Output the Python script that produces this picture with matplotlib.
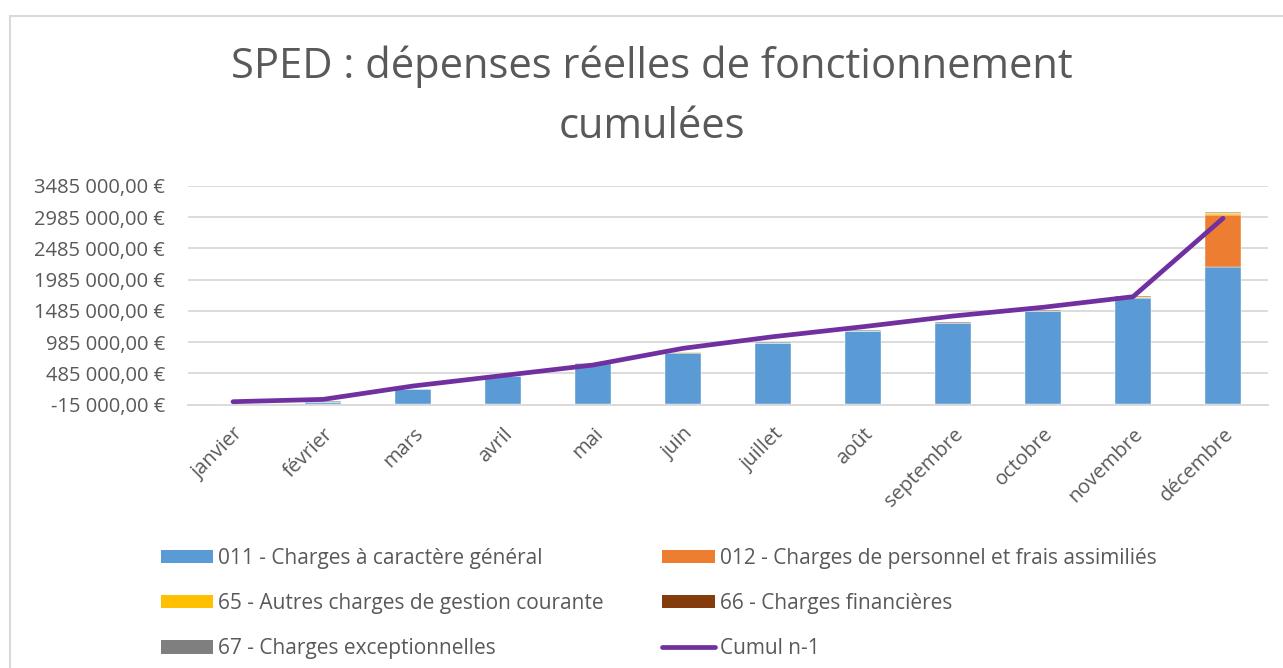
import numpy as np
import matplotlib
matplotlib.use("Agg")
import matplotlib.pyplot as plt
from matplotlib.patches import Patch, Rectangle
from matplotlib.lines import Line2D

plt.rcParams['font.family'] = ['Open Sans', 'DejaVu Sans']

# data
months = ["janvier", "février", "mars", "avril", "mai", "juin", "juillet",
          "août", "septembre", "octobre", "novembre", "décembre"]
c011 = [2000, 33000, 236000, 440000, 645000, 815000, 970000,
        1160000, 1290000, 1480000, 1700000, 2195000]
c012 = [0, 0, 0, 0, 0, 0, 0, 0, 0, 0, 0, 832000]
c65 = [0, 2000, 3000, 4000, 5000, 6000, 7000, 8000, 9000, 12000, 15000, 25000]
c66 = [0, 1000, 1000, 2000, 2000, 3000, 3000, 3000, 4000, 4000, 4000, 5000]
c67 = [-8000, 1000, 1000, 1000, 2000, 2000, 2000, 2000, 2000, 3000, 3000, 6000]
cumul_n1 = [33000, 70000, 284000, 452000, 620000, 887000, 1073000,
            1233000, 1404000, 1544000, 1713000, 2968000]
yticks = [-15000, 485000, 985000, 1485000, 1985000, 2485000, 2985000, 3485000]
ytick_labels = ["-15 000,00 €", "485 000,00 €", "985 000,00 €", "1485 000,00 €",
                "1985 000,00 €", "2485 000,00 €", "2985 000,00 €", "3485 000,00 €"]

series = [
    ("011 - Charges à caractère général", c011, "#5b9bd5"),
    ("012 - Charges de personnel et frais assimiliés", c012, "#ed7d31"),
    ("65 - Autres charges de gestion courante", c65, "#ffc000"),
    ("66 - Charges financières", c66, "#843c0c"),
    ("67 - Charges exceptionnelles", c67, "#7f7f7f"),
]

text_color = "#595959"
grid_color = "#d9d9d9"

fig = plt.figure(figsize=(12.83, 6.68), dpi=100)
ax = fig.add_axes([188 / 1283, 1 - 404.7 / 668, 1080 / 1283, (404.7 - 186) / 668])

x = np.arange(len(months))
pos_bottom = np.zeros(len(months))
neg_bottom = np.zeros(len(months))
handles = {}
for name, vals, color in series:
    vals = np.array(vals, dtype=float)
    bottom = np.where(vals >= 0, pos_bottom, neg_bottom)
    ax.bar(x, vals, width=0.4, bottom=bottom, color=color,
           edgecolor="white", linewidth=0.3, zorder=2)
    pos_bottom += np.where(vals >= 0, vals, 0)
    neg_bottom += np.where(vals < 0, vals, 0)
    handles[name] = Patch(facecolor=color, label=name)

ax.plot(x, cumul_n1, color="#7030a0", linewidth=3.4, solid_capstyle="round",
        solid_joinstyle="round", zorder=3)
handles["Cumul n-1"] = Line2D([], [], color="#7030a0", linewidth=3.4,
                              solid_capstyle="round", label="Cumul n-1")

ax.set_xlim(-0.5, len(months) - 0.5)
ax.set_ylim(-15000, 3485000)
ax.set_yticks(yticks)
ax.set_yticklabels(ytick_labels)
ax.yaxis.grid(True, color=grid_color, linewidth=1.3, zorder=0)
ax.set_axisbelow(True)
for side in ["top", "right", "left"]:
    ax.spines[side].set_visible(False)
ax.spines["bottom"].set_color(grid_color)
ax.spines["bottom"].set_linewidth(1.3)
ax.tick_params(axis="y", length=0, pad=16.5, labelsize=14.5, labelcolor=text_color)
ax.tick_params(axis="x", length=0, pad=14, labelsize=14.5, labelcolor=text_color)
ax.set_xticks(x)
ax.set_xticklabels(months, rotation=45, ha="right", rotation_mode="anchor")

fig.text(0.508, 1 - 97 / 668, "SPED : dépenses réelles de fonctionnement\ncumulées",
         ha="center", va="center", fontsize=30, color=text_color, linespacing=1.56)

order = ["011 - Charges à caractère général", "65 - Autres charges de gestion courante",
         "67 - Charges exceptionnelles", "012 - Charges de personnel et frais assimiliés",
         "66 - Charges financières", "Cumul n-1"]
leg = fig.legend([handles[k] for k in order], order, ncol=2, loc="upper left",
                 bbox_to_anchor=(142 / 1283, 1 - 529 / 668), frameon=False,
                 fontsize=15, handlelength=2.5, handleheight=0.62, handletextpad=0.24,
                 labelspacing=1.16, columnspacing=2.83)
for t in leg.get_texts():
    t.set_color(text_color)

# chart border
fig.patches.append(Rectangle((10 / 1283, -0.1), 1.2, 1 - 16 / 668 + 0.1,
                             transform=fig.transFigure, fill=False,
                             edgecolor=grid_color, linewidth=1.5))

fig.savefig("out.png", dpi=100)
